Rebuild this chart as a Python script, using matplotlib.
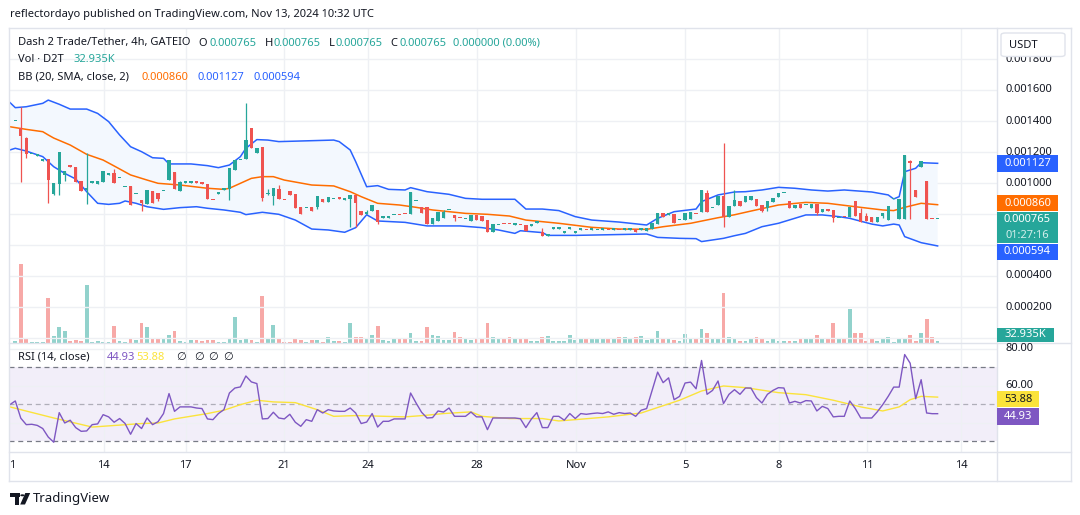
import numpy as np
import matplotlib
matplotlib.use("Agg")
import matplotlib.pyplot as plt
import matplotlib.transforms as mtransforms
from matplotlib.patches import Rectangle, FancyBboxPatch, Circle, Polygon
from matplotlib.lines import Line2D

plt.rcParams['font.family'] = ['Noto Sans', 'DejaVu Sans']

# ---------------- data (prices in millionths of USDT, one entry per 4h bar) ----------------
opens = [1398,1357,1292,1187,1177,1144,1153,929,995,1054,
         1107,1103,1011,958,1002,995,1006,1054,1062,1030,
         972,981,927,888,866,948,935,948,1021,1069,
         950,1002,1002,1004,997,991,892,932,958,961,
         1084,1148,1153,1353,1195,1230,930,916,961,890,
         946,929,845,839,845,847,895,880,897,901,
         893,895,922,819,803,819,826,777,777,794,
         795,802,798,882,847,843,735,755,776,824,
         793,774,766,757,793,785,761,686,727,735,
         738,731,731,727,725,744,682,660,706,706,
         680,706,680,699,699,699,695,699,699,699,
         699,699,699,701,699,692,703,737,804,796,
         798,759,761,768,800,815,937,837,860,918,
         783,852,884,879,890,895,858,840,879,911,
         935,884,840,864,858,840,864,811,832,826,
         774,781,783,884,804,787,781,750,787,761,
         895,768,766,1140,955,1101,1013,767,765]
highs = [1400,1492,1297,1189,1179,1146,1153,1000,1198,1080,
         1110,1103,1011,1192,1004,1013,1075,1056,1090,1032,
         974,981,929,888,953,948,935,950,1146,1069,
         1010,1004,1004,1010,997,991,892,934,960,1095,
         1146,1150,1516,1353,1224,1230,960,966,990,890,
         946,929,845,841,845,916,895,910,899,901,
         895,922,922,819,826,858,826,779,779,796,
         795,802,940,884,847,843,772,811,826,826,
         793,774,768,793,793,785,761,733,729,735,
         738,733,731,727,727,746,710,662,708,708,
         682,708,682,701,699,701,697,701,699,701,
         699,701,701,701,701,711,742,806,804,798,
         798,761,808,813,800,955,955,839,918,1260,
         852,955,884,916,918,895,858,884,905,937,
         937,884,858,864,860,864,864,832,832,826,
         776,781,845,884,838,808,781,781,804,852,
         897,897,1181,1148,955,1140,1013,767,765]
lows = [1398,1005,1159,1187,1177,1144,873,923,923,1013,
        1105,1008,950,863,1002,995,1006,1054,1002,1030,
        972,860,927,821,866,873,882,948,1021,963,
        950,1002,1002,1000,995,899,890,932,958,890,
        1084,1148,1153,1228,1195,882,925,858,899,888,
        925,841,798,839,821,833,880,880,897,899,
        893,716,718,793,803,819,733,777,777,794,
        793,800,798,882,808,733,735,755,776,824,
        756,772,766,757,759,757,682,686,727,733,
        736,731,729,690,725,744,660,660,706,706,
        680,706,680,699,697,699,695,699,697,699,
        697,699,699,686,699,692,703,737,779,796,
        744,759,761,768,798,815,815,837,860,718,
        783,852,852,879,890,852,811,819,879,911,
        935,840,840,840,858,840,793,811,821,750,
        774,779,783,789,750,755,750,750,775,761,
        895,768,766,766,912,1101,766,765,765]
closes = [1400,1305,1189,1189,1179,1146,1021,1000,1198,1075,
          1105,1008,950,960,1004,1013,1075,1056,1002,1032,
          974,860,929,873,953,873,895,950,1146,963,
          1004,1004,1004,1002,995,899,890,934,960,1095,
          1146,1150,1277,1228,1224,905,935,966,899,888,
          925,841,798,841,821,916,880,910,899,899,
          895,922,873,793,805,858,746,779,779,796,
          793,800,940,884,808,733,772,811,811,826,
          772,772,768,793,759,757,682,733,729,733,
          736,733,729,690,727,746,660,662,708,708,
          682,708,682,701,697,701,697,701,697,701,
          697,701,701,686,701,711,742,806,779,798,
          744,761,808,813,798,955,815,839,918,779,
          852,890,852,916,918,852,819,884,905,937,
          937,840,858,840,860,864,808,832,821,772,
          776,779,845,789,750,755,750,781,804,852,
          897,897,1181,1130,912,1140,766,765,765]
# volume in thousands of D2T
volume_k = [28,1300,61,16,16,16,738,110,259,193,
            28,45,28,952,12,28,16,16,276,28,
            16,61,45,325,259,78,78,78,127,193,
            28,16,45,45,28,45,45,16,16,78,
            424,45,78,45,16,771,78,292,61,16,
            16,61,45,16,45,45,16,94,28,28,
            16,325,94,83,50,120,269,38,21,54,
            71,54,153,21,21,252,120,104,38,38,
            170,87,54,38,54,71,318,87,54,54,
            87,71,54,54,21,21,87,104,21,21,
            21,120,38,54,54,71,54,54,71,71,
            87,87,71,87,104,38,54,186,54,54,
            38,21,137,54,54,231,149,50,50,825,
            99,66,21,21,50,99,66,33,50,21,
            21,21,33,50,50,66,116,50,50,330,
            50,50,561,149,165,33,66,33,50,83,
            16,50,66,132,33,149,396,99,32.935]

# Bollinger bands (20, SMA, 2): bar index -> price (millionths)
bb_up_idx = [-1,0,2,5,6,8,10,13,15,17,19,21,23,25,27,28,32,35,37,39,41,42,44,46,48,52,58,59,61,62,
             64,66,68,71,72,75,79,82,85,91,93,96,99,102,105,110,115,117,120,124,125,128,131,133,136,
             139,142,145,148,151,156,159,160,161,162,163,164,165,168]
bb_up = [1520,1486,1492,1514,1535,1508,1477,1477,1449,1396,1310,1234,1202,1163,1159,1123,1123,1112,1099,1116,
         1170,1224,1280,1277,1267,1271,1277,1267,1213,1138,976,983,959,955,970,944,927,901,895,895,
         832,832,822,783,761,748,729,772,815,832,880,923,942,944,955,972,966,955,948,955,
         942,923,897,912,1073,1084,1095,1131,1127]
bb_mid_idx = [-1,2,5,6,7,10,13,16,18,21,24,26,30,35,38,39,41,43,45,47,49,54,58,61,63,66,70,73,76,82,
              86,90,93,99,105,110,115,118,123,128,131,134,139,144,148,153,158,160,162,165,168]
bb_mid = [1363,1346,1331,1310,1290,1245,1185,1148,1110,1052,1019,998,987,966,959,966,998,1030,1041,1041,
          1019,987,981,944,912,869,858,843,826,804,798,787,761,740,714,703,701,718,740,776,
          795,819,858,875,869,847,826,822,843,869,860]
bb_lo_idx = [-1,0,2,5,7,9,11,13,15,17,19,20,22,24,27,30,33,35,38,41,42,45,48,51,54,57,60,62,64,66,
             71,75,81,85,88,91,92,96,97,102,115,117,121,124,125,129,131,133,136,139,144,147,150,152,156,
             158,160,161,162,164,165,168]
bb_lo = [1213,1224,1206,1170,1105,1062,1026,944,869,862,869,884,869,847,830,841,847,837,826,811,
         796,811,798,761,703,697,682,712,795,755,746,723,723,712,697,675,692,680,662,662,
         671,649,643,641,622,643,660,675,718,740,794,794,783,772,735,723,735,729,654,628,
         615,594]

# RSI(14) for bars -1 .. 168
rsi = [49.8,51.8,42.5,39.0,39.2,38.6,36.9,32.3,29.5,45.5,
       39.9,41.4,37.4,35.4,35.6,39.0,39.4,44.4,43.2,40.3,
       42.3,39.6,33.8,39.6,36.9,42.6,39.0,40.6,45.0,55.8,
       46.2,48.6,48.6,48.6,48.0,47.7,42.1,41.7,45.0,47.1,
       56.1,58.8,59.4,65.3,62.1,61.2,42.1,42.3,45.7,42.6,
       42.1,44.6,40.3,38.1,41.7,40.8,47.1,45.3,47.1,46.4,
       46.2,46.2,48.0,45.3,39.6,40.4,45.0,37.7,40.8,40.8,
       42.1,42.1,42.1,56.1,50.7,45.7,42.6,42.8,46.4,45.8,
       48.0,43.5,43.5,43.5,45.8,43.2,43.2,36.3,42.6,42.6,
       42.6,42.6,42.6,42.2,37.4,42.0,45.5,37.4,37.4,43.5,
       43.5,41.4,45.0,42.3,45.0,44.6,45.0,45.3,45.0,45.9,
       44.6,45.5,45.0,45.3,43.5,46.8,47.7,57.5,67.4,61.7,
       64.3,52.5,54.3,61.5,62.0,58.4,73.7,55.4,57.5,62.6,
       50.4,55.4,57.9,55.4,58.8,58.8,53.6,50.7,55.4,57.5,
       59.0,58.8,50.7,51.6,50.7,52.0,51.8,46.4,48.9,47.7,
       43.2,43.5,43.5,51.8,47.7,42.6,42.6,42.6,45.9,49.8,
       54.3,59.3,59.3,76.9,72.2,53.0,63.3,45.3,44.93,44.93]
rsi_ma_idx = [-1,7,14,23,26,29,35,38,41,44,47,51,55,58,62,65,71,75,78,83,
              85,90,96,99,102,108,114,121,125,129,133,139,144,149,154,158,161,163,165,168]
rsi_ma = [48.6,42.6,37.7,39.6,39.9,42.1,45.0,46.8,49.8,52.2,51.3,50.9,47.1,43.5,43.9,43.7,43.2,44.1,45.0,45.9,
          43.5,42.3,42.3,41.0,41.7,43.2,45.3,52.2,57.2,59.9,59.0,56.3,55.2,52.2,48.6,46.4,48.6,52.5,54.3,53.88]

date_labels = ['14', '17', '21', '24', '28', 'Nov', '5', '8', '11', '14']
date_px = [103.5, 185.7, 284, 368, 477.3, 576, 685, 779, 867, 961]
price_ticks = [0.0002, 0.0004, 0.0006, 0.0008, 0.0010, 0.0012, 0.0014, 0.0016, 0.0018]
price_labels_shown = [0.0002, 0.0004, 0.0010, 0.0012, 0.0014, 0.0016, 0.0018]   # others sit under value tags
rsi_ticks = [40, 60, 80]

# ---------------- style ----------------
W, H = 1080, 515
X0, DX = 15.3, 5.49          # pixel centre of bar 0 and bar spacing
TEAL, RED = '#26a69a', '#ef5350'
VTEAL, VRED = '#92d2cc', '#f7a9a7'
BLUE, ORANGE = '#2962ff', '#ff6d00'
PURPLE, YELLOW = '#7e57c2', '#fbe33b'
TXT, GRID, BORDER = '#131722', '#eef0f4', '#e0e3eb'


def bar_at(px):
    return (px - X0) / DX


def fx(x):
    return x / W


def fy(y):
    return 1 - y / H


fig = plt.figure(figsize=(W / 100, H / 100), dpi=100)
fig.patch.set_facecolor('white')

# ---------------- main pane ----------------
top_px, bot_px = 29, 342.5
ax = fig.add_axes([fx(8.5), fy(bot_px), fx(997) - fx(8.5), fy(top_px) - fy(bot_px)])
axv = ax.twinx()
ax.set_zorder(axv.get_zorder() + 1)
ax.patch.set_visible(False)
xlim = (bar_at(8.5), bar_at(997))
ax.set_xlim(*xlim)
# 0 USDT sits at y=338 px, 155 px per 0.001
ax.set_ylim((338 - bot_px) / 155 * 1e-3, (338 - top_px) / 155 * 1e-3)

o = np.array(opens) * 1e-6
h = np.array(highs) * 1e-6
l = np.array(lows) * 1e-6
c = np.array(closes) * 1e-6
idx = np.arange(len(c))
up = c >= o
col = np.where(up, TEAL, RED)

# volume
axv.bar(idx, volume_k, width=0.68, color=np.where(up, VTEAL, VRED), linewidth=0)
axv.set_ylim(0, (bot_px - top_px) * 16.5)

for p in [0.0] + price_ticks:
    ax.axhline(p, color=GRID, lw=1, zorder=0)
for d in date_px:
    ax.axvline(bar_at(d), color=GRID, lw=1, zorder=0)

# bollinger bands
ux, uy = np.array(bb_up_idx), np.array(bb_up) * 1e-6
lx, ly = np.array(bb_lo_idx), np.array(bb_lo) * 1e-6
ax.fill(np.r_[ux, lx[::-1]], np.r_[uy, ly[::-1]], color='#f3f8fe', lw=0, zorder=1)
ax.plot(ux, uy, color=BLUE, lw=1.1, zorder=2)
ax.plot(lx, ly, color=BLUE, lw=1.1, zorder=2)
ax.plot(bb_mid_idx, np.array(bb_mid) * 1e-6, color=ORANGE, lw=1.1, zorder=2)

# candles
ax.vlines(idx, l, h, colors=col, lw=0.9, zorder=3)
min_body = 1.3 / 155 * 1e-3
ax.bar(idx, np.maximum(np.abs(c - o), min_body), bottom=np.minimum(o, c),
       width=0.62, color=col, linewidth=0, zorder=4)

for a in (ax, axv):
    a.set_xticks([])
    a.set_yticks([])
    for s in a.spines.values():
        s.set_visible(False)

# ---------------- RSI pane ----------------
rtop, rbot = 343.5, 452
axr = fig.add_axes([fx(8.5), fy(rbot), fx(997) - fx(8.5), fy(rtop) - fy(rbot)])
axr.set_xlim(*xlim)
axr.set_ylim(50 - (rbot - 404.3) / 1.85, 50 + (404.3 - rtop) / 1.85)
axr.axhspan(30, 70, color='#f2eef9', lw=0, zorder=0)
for g in rsi_ticks:
    axr.axhline(g, color=GRID, lw=1, zorder=0.5)
for d in date_px:
    axr.axvline(bar_at(d), color=GRID, lw=1, zorder=0.5)
for lvl, al in ((70, 1), (30, 1), (50, 0.55)):
    axr.axhline(lvl, color='#787b86', alpha=al, lw=0.9, ls=(0, (4, 3)), zorder=1)
axr.plot(np.arange(-1, len(rsi) - 1), rsi, color=PURPLE, lw=1.0, zorder=3)
axr.plot(rsi_ma_idx, rsi_ma, color=YELLOW, lw=1.0, zorder=2)
axr.set_xticks([])
axr.set_yticks([])
for s in axr.spines.values():
    s.set_visible(False)

# ---------------- frame ----------------
def hline(y, x0, x1):
    fig.add_artist(Line2D([fx(x0), fx(x1)], [fy(y), fy(y)], color=BORDER, lw=1, transform=fig.transFigure))


def vline(x, y0, y1):
    fig.add_artist(Line2D([fx(x), fx(x)], [fy(y0), fy(y1)], color=BORDER, lw=1, transform=fig.transFigure))


hline(28, 8.5, 1071)
hline(343, 8.5, 1071)
hline(452, 8.5, 1071)
hline(481, 8.5, 1071)
vline(8.5, 28, 481)
vline(997, 28, 481)
vline(1071, 28, 481)


def txt(x, y, s, color=TXT, size=8, ha='left', weight='normal', z=3):
    fig.text(fx(x), fy(y), s, color=color, fontsize=size, ha=ha, va='center', fontweight=weight, zorder=z)


def box(x0, y0, x1, y1, color):
    fig.add_artist(Rectangle((fx(x0), fy(y1)), fx(x1) - fx(x0), fy(y0) - fy(y1),
                             transform=fig.transFigure, facecolor=color, edgecolor='none', zorder=5))


# price scale
tr_main = mtransforms.blended_transform_factory(fig.transFigure, ax.transData)
for p in price_labels_shown:
    fig.text(fx(1005), p, f'{p:.6f}', transform=tr_main, color=TXT, fontsize=8, va='center', zorder=3)
tr_rsi = mtransforms.blended_transform_factory(fig.transFigure, axr.transData)
for g in rsi_ticks:
    fig.text(fx(1005), g, f'{g:.2f}', transform=tr_rsi, color=TXT, fontsize=8, va='center', zorder=3)

# date scale
tr_date = mtransforms.blended_transform_factory(axr.transData, fig.transFigure)
fig.text(fx(12), fy(466), '1', color=TXT, fontsize=8, ha='center', va='center')
for lab, d in zip(date_labels, date_px):
    fig.text(bar_at(d), fy(466), lab, transform=tr_date, color=TXT, fontsize=8, ha='center', va='center',
             fontweight='bold' if lab == 'Nov' else 'normal')

# last-value labels
box(997, 155, 1058, 171.5, BLUE)
txt(1027.5, 163.3, f'{bb_up[-1] * 1e-6:.6f}', 'white', ha='center', z=6)
box(997, 195, 1058, 211, ORANGE)
txt(1027.5, 203, f'{bb_mid[-1] * 1e-6:.6f}', 'white', ha='center', z=6)
box(997, 211.5, 1058, 243, TEAL)
txt(1027.5, 219.5, f'{closes[-1] * 1e-6:.6f}', 'white', ha='center', z=6)
txt(1027.5, 235, '01:27:16', '#d4efec', ha='center', z=6)
box(997, 243.5, 1058, 259.5, BLUE)
txt(1027.5, 251.5, f'{bb_lo[-1] * 1e-6:.6f}', 'white', ha='center', z=6)
box(997, 327.5, 1054, 341.5, TEAL)
txt(1025.5, 334.5, f'{volume_k[-1]:.3f}K', 'white', ha='center', z=6)
box(997, 391, 1039, 407, YELLOW)
txt(1018, 399, f'{rsi_ma[-1]:.2f}', TXT, ha='center', z=6)
box(997, 408, 1039, 424.5, PURPLE)
txt(1018, 416.2, f'{rsi[-1]:.2f}', 'white', ha='center', z=6)

fig.add_artist(FancyBboxPatch((fx(1001), fy(56.5)), fx(1065) - fx(1001), fy(33) - fy(56.5),
                              boxstyle='round,pad=0,rounding_size=0.004', transform=fig.transFigure,
                              facecolor='white', edgecolor=BORDER, lw=1, zorder=5))
txt(1009, 45, 'USDT', z=6)

# ---------------- header & legends ----------------
txt(10, 14, 'reflectordayo published on TradingView.com, Nov 13, 2024 10:32 UTC', size=8)
last = f'{closes[-1] * 1e-6:.6f}'
txt(18, 43, 'Dash 2 Trade/Tether, 4h, GATEIO')
for letter, lx_, vx_ in (('O', 198.5, 209), ('H', 264.5, 274), ('L', 329, 336), ('C', 390, 399)):
    txt(lx_, 43, letter)
    txt(vx_, 43, last, TEAL)
txt(453, 43, '0.000000 (0.00%)', TEAL)
txt(18, 60, 'Vol · D2T')
txt(73.5, 60, f'{volume_k[-1]:.3f}K', TEAL)
txt(18, 77, 'BB (20, SMA, close, 2)')
txt(142, 77, f'{bb_mid[-1] * 1e-6:.6f}', ORANGE)
txt(198, 77, f'{bb_up[-1] * 1e-6:.6f}', BLUE)
txt(254, 77, f'{bb_lo[-1] * 1e-6:.6f}', BLUE)
txt(18, 357, 'RSI (14, close)')
txt(107, 357, f'{rsi[-1]:.2f}', PURPLE)
txt(136, 357, f'{rsi_ma[-1]:.2f}', YELLOW)
for xx in (176, 194.5, 208, 223):
    txt(xx, 357, '∅')

# TradingView logo
logo = [Rectangle((fx(10.3), fy(497.3)), fx(19.5) - fx(10.3), fy(493) - fy(497.3)),
        Rectangle((fx(15.2), fy(504.5)), fx(19.5) - fx(15.2), fy(493) - fy(504.5)),
        Polygon([(fx(25.3), fy(493)), (fx(30.2), fy(493)), (fx(25), fy(504.5)), (fx(20.2), fy(504.5))]),
        Circle((fx(22.4), fy(495.3)), 2.1 / W)]
for pch in logo:
    pch.set_transform(fig.transFigure)
    pch.set_facecolor(TXT)
    pch.set_edgecolor('none')
    fig.add_artist(pch)
txt(33, 498.5, 'TradingView', size=9.5)

fig.savefig('out.png', dpi=100, facecolor='white')
